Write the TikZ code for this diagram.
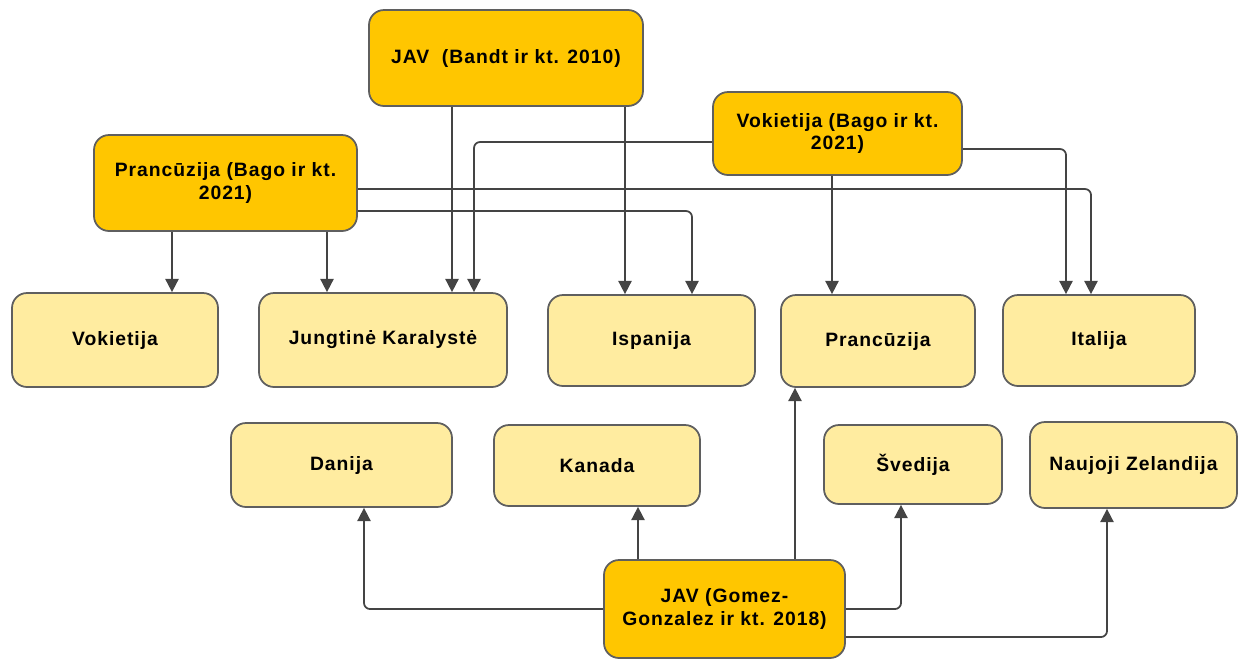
\documentclass[tikz,border=0pt]{standalone}
\usepackage{fontspec}
\setmainfont{Liberation Sans}[LetterSpace=5]
\usetikzlibrary{arrows.meta}
\usetikzlibrary{calc}
\tikzset{>={Triangle[width=7.5pt,length=7.5pt]}}
\definecolor{studyyellow}{RGB}{255,198,0}
\definecolor{countryyellow}{RGB}{255,236,160}
\definecolor{boxgray}{RGB}{95,95,95}
\definecolor{linegray}{RGB}{68,68,68}
\tikzstyle{box}=[draw=boxgray,line width=1pt,rounded corners=0.3cm,align=center,
  font=\fontsize{11}{13}\selectfont\bfseries,text=black,inner sep=2pt]
\tikzstyle{study}=[box,fill=studyyellow]
\tikzstyle{country}=[box,fill=countryyellow]
\tikzstyle{link}=[draw=linegray,line width=1pt,rounded corners=0.12cm,->]

\begin{document}
\begin{tikzpicture}
    \useasboundingbox (0,0) rectangle (24.9,-13.18);

    % studies
    \node[study,minimum width=5.48cm,minimum height=1.92cm] (bandt) at (10.12,-1.16) {JAV\ \ (Bandt ir kt. 2010)};
    \node[study,minimum width=5.26cm,minimum height=1.92cm] (pbago) at (4.51,-3.66) {Prancūzija (Bago ir kt.\\2021)};
    \node[study,minimum width=4.98cm,minimum height=1.66cm] (vbago) at (16.75,-2.67) {Vokietija (Bago ir kt.\\2021)};
    \node[study,minimum width=4.82cm,minimum height=1.96cm] (gomez) at (14.49,-12.18) {JAV (Gomez-\\Gonzalez ir kt. 2018)};

    % countries
    \node[country,minimum width=4.12cm,minimum height=1.88cm] (vok) at (2.30,-6.80) {Vokietija};
    \node[country,minimum width=4.96cm,minimum height=1.88cm] (jk) at (7.66,-6.80) {Jungtinė Karalystė};
    \node[country,minimum width=4.14cm,minimum height=1.82cm] (isp) at (13.03,-6.81) {Ispanija};
    \node[country,minimum width=3.88cm,minimum height=1.84cm] (pran) at (17.56,-6.82) {Prancūzija};
    \node[country,minimum width=3.84cm,minimum height=1.82cm] (ital) at (21.98,-6.81) {Italija};
    \node[country,minimum width=4.42cm,minimum height=1.68cm] (dan) at (6.83,-9.30) {Danija};
    \node[country,minimum width=4.12cm,minimum height=1.62cm] (kan) at (11.94,-9.31) {Kanada};
    \node[country,minimum width=3.56cm,minimum height=1.58cm] (sved) at (18.26,-9.29) {Švedija};
    \node[country,minimum width=4.14cm,minimum height=1.72cm] (nz) at (22.67,-9.30) {Naujoji Zelandija};

    \draw[link] ([xshift=-1.08cm]bandt.south) -- ([xshift=-1.08cm]bandt.south |- jk.north);
    \draw[link] ([xshift=2.38cm]bandt.south) -- ([xshift=2.38cm]bandt.south |- isp.north);

    \draw[link] ([xshift=-1.07cm]pbago.south) -- ([xshift=-1.07cm]pbago.south |- vok.north);
    \draw[link] ([xshift=2.03cm]pbago.south) -- ([xshift=2.03cm]pbago.south |- jk.north);
    \draw[link] ([yshift=-0.12cm]pbago.east) -| ([xshift=-0.16cm]ital.north);
    \draw[link] ([yshift=-0.56cm]pbago.east) -| ([xshift=0.81cm]isp.north);

    \draw[link] ([yshift=-0.17cm]vbago.west) -| ([xshift=1.82cm]jk.north);
    \draw[link] ([xshift=-0.11cm]vbago.south) -- ([xshift=-0.11cm]vbago.south |- pran.north);
    \draw[link] ([yshift=-0.31cm]vbago.east) -| ([xshift=-0.66cm]ital.north);

    \draw[link] ([xshift=1.41cm]gomez.north) -- ([xshift=1.41cm]gomez.north |- pran.south);
    \draw[link] (gomez.west) -| ([xshift=0.45cm]dan.south);
    \draw[link] ([xshift=0.82cm]kan.south |- gomez.north) -- ([xshift=0.82cm]kan.south);
    \draw[link] (gomez.east) -| ([xshift=-0.24cm]sved.south);
    \draw[link] ([yshift=-0.56cm]gomez.east) -| ([xshift=-0.53cm]nz.south);
\end{tikzpicture}
\end{document}
